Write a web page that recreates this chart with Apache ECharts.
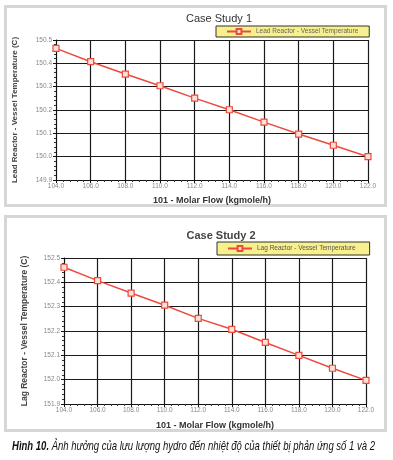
<!DOCTYPE html>
<html><head><meta charset="utf-8">
<script src="https://cdn.jsdelivr.net/npm/echarts@6/dist/echarts.min.js"></script>
<style>html,body{margin:0;padding:0;background:#fff}#c{width:393px;height:460px}</style>
</head><body><div id="c"></div>
<script>
const flow = [104, 106, 108, 110, 112, 114, 116, 118, 120, 122];
const leadTemp = [150.464, 150.407, 150.354, 150.304, 150.251, 150.201, 150.148, 150.097, 150.049, 150.0];
const lagTemp = [152.462, 152.407, 152.356, 152.306, 152.252, 152.207, 152.153, 152.1, 152.047, 151.997];
const titles = ['Case Study 1', 'Case Study 2'];
const seriesNames = ['Lead Reactor - Vessel Temperature', 'Lag Reactor - Vessel Temperature'];
const yNames = ['Lead Reactor - Vessel Temperature (C)', 'Lag Reactor - Vessel Temperature (C)'];
const xName = '101 - Molar Flow (kgmole/h)';
const caption = ['Hình 10.', ' Ảnh hưởng của lưu lượng hydro đến nhiệt độ của thiết bị phản ứng số 1 và 2'];

const chart = echarts.init(document.getElementById('c'), null, {renderer: 'canvas'});
const red = '#ee4a3c';
const F = 'Liberation Sans, Arial, sans-serif';
const CF = 'Liberation Sans, Arial, sans-serif';
const CS = 13.5;

// fit caption width horizontally (condensed look)
const cv = document.createElement('canvas').getContext('2d');
cv.font = 'italic bold ' + CS + 'px ' + CF;
let capW = cv.measureText(caption[0]).width;
cv.font = 'italic ' + CS + 'px ' + CF;
capW += cv.measureText(caption[1]).width;
const capScale = 363 / capW;

function xAx(i) {
  return {
    type: 'value', gridIndex: i, min: 104, max: 122, interval: 2,
    name: xName, nameLocation: 'middle', nameGap: i === 0 ? 16 : 17,
    nameTextStyle: {fontFamily: F, fontWeight: 'bold', fontSize: 9, color: '#333'},
    axisLine: {lineStyle: {color: '#111', width: 1}},
    axisTick: {show: true, length: 3, inside: false, lineStyle: {color: '#111'}},
    minorTick: {show: true, splitNumber: 5, length: 2, lineStyle: {color: '#333'}},
    axisLabel: {fontFamily: F, fontSize: 6.5, color: '#888', margin: 3, formatter: v => v.toFixed(1)},
    splitLine: {show: true, lineStyle: {color: '#1a1a1a', width: 1.2}}
  };
}
function yAx(i, min, max) {
  return {
    type: 'value', gridIndex: i, min: min, max: max, interval: 0.1,
    name: yNames[i], nameLocation: 'middle', nameGap: i === 0 ? 37 : 35,
    nameTextStyle: {fontFamily: F, fontWeight: 'bold', fontSize: i === 0 ? 8 : 8.5, color: '#444'},
    axisLine: {show: true, lineStyle: {color: '#111', width: 1}},
    axisTick: {show: true, length: 3, lineStyle: {color: '#111'}},
    minorTick: {show: true, splitNumber: 5, length: 2, lineStyle: {color: '#333'}},
    axisLabel: {fontFamily: F, fontSize: 6.5, color: '#888', margin: 4, formatter: v => v.toFixed(1)},
    splitLine: {show: true, lineStyle: {color: '#1a1a1a', width: 1.2}}
  };
}
function ser(i, data) {
  return {
    type: 'line', name: seriesNames[i], xAxisIndex: i, yAxisIndex: i,
    data: flow.map((f, k) => [f, data[k]]),
    symbol: 'rect', symbolSize: 6, showAllSymbol: true,
    lineStyle: {color: red, width: 1.5},
    itemStyle: {color: '#fde0d8', borderColor: red, borderWidth: 1.2},
    emphasis: {disabled: true}
  };
}

chart.setOption({
  animation: false,
  backgroundColor: '#fff',
  title: [
    {text: titles[0], left: 214, top: 8, textAlign: 'center',
     textStyle: {fontFamily: F, fontSize: 11, fontWeight: 'normal', color: '#333'}},
    {text: titles[1], left: 216, top: 225, textAlign: 'center',
     textStyle: {fontFamily: F, fontSize: 11, fontWeight: 'bold', color: '#444'}}
  ],
  legend: [
    {data: [seriesNames[0]], left: 216, top: 26, orient: 'horizontal',
     backgroundColor: '#f7f08c', borderColor: '#333', borderWidth: 1,
     padding: [2, 11, 2, 10], itemWidth: 24, itemHeight: 6, itemGap: 4,
     textStyle: {fontFamily: F, fontSize: 6.5, color: '#666'}},
    {data: [seriesNames[1]], left: 217, top: 242, orient: 'horizontal',
     backgroundColor: '#f7f08c', borderColor: '#333', borderWidth: 1,
     padding: [3, 14, 3, 10], itemWidth: 24, itemHeight: 6, itemGap: 4,
     textStyle: {fontFamily: F, fontSize: 6.5, color: '#555'}}
  ],
  grid: [
    {left: 56, right: 25, top: 40, height: 140},
    {left: 64, right: 27, top: 258, height: 146}
  ],
  xAxis: [xAx(0), xAx(1)],
  yAxis: [yAx(0, 149.9, 150.5), yAx(1, 151.9, 152.5)],
  series: [ser(0, leadTemp), ser(1, lagTemp)],
  graphic: [
    {type: 'rect', z: -1, shape: {x: 5.5, y: 6.5, width: 380, height: 199},
     style: {fill: 'none', stroke: '#d6d6d6', lineWidth: 3}},
    {type: 'rect', z: -1, shape: {x: 5.5, y: 216.5, width: 380, height: 214},
     style: {fill: 'none', stroke: '#d6d6d6', lineWidth: 3}},
    {type: 'text', x: 12, y: 439, scaleX: capScale, originX: 0,
     style: {text: '{b|' + caption[0] + '}{i|' + caption[1] + '}',
       rich: {
         b: {fontFamily: CF, fontStyle: 'italic', fontWeight: 'bold', fontSize: CS, fill: '#111'},
         i: {fontFamily: CF, fontStyle: 'italic', fontSize: CS, fill: '#111'}
       }}}
  ]
});
</script></body></html>
